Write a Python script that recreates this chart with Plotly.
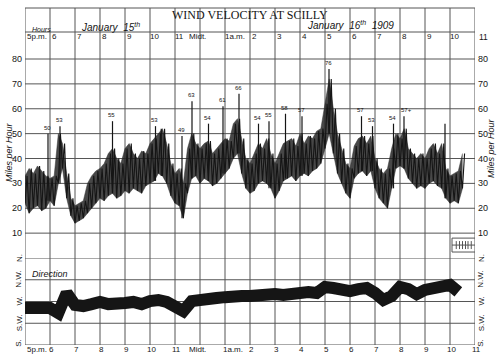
import plotly.graph_objects as go

W, H = 500, 356

# ---------------- data ----------------
hours = list(range(17, 36))
hour_labels = ["5p.m.", "6", "7", "8", "9", "10", "11", "Midt.", "1a.m.",
               "2", "3", "4", "5", "6", "7", "8", "9", "10", "11"]

vel_ticks = [10, 20, 30, 40, 50, 60, 70, 80]
dir_ticks = [0, 1, 2, 3, 4]
dir_labels = ["S.", "S.W.", "W.", "N.W.", "N."]

# velocity envelope, every 10 minutes from 5 p.m. (hour 17)
env_start = 17.0
env_step = 1 / 6
vel_low = [22, 18, 20, 21, 19, 20, 23, 21, 30, 36, 24, 17, 14, 15, 16, 18, 20, 22,
           24, 23, 25, 26, 24, 25, 27, 26, 28, 27, 26, 29, 30, 31, 34, 33, 30, 25,
           22, 21, 16, 26, 32, 33, 30, 32, 31, 29, 30, 32, 34, 36, 40, 42, 34, 28,
           26, 27, 30, 31, 30, 28, 24, 27, 31, 32, 33, 31, 33, 34, 33, 35, 36, 38,
           44, 50, 42, 34, 30, 26, 24, 32, 34, 35, 33, 35, 28, 24, 22, 20, 28, 36,
           37, 36, 32, 30, 28, 29, 28, 30, 31, 29, 28, 24, 22, 23, 22, 28]
vel_high = [33, 36, 34, 37, 35, 33, 32, 33, 50, 46, 34, 24, 21, 22, 23, 30, 33, 35,
            36, 38, 42, 44, 40, 38, 44, 46, 42, 40, 43, 42, 46, 48, 50, 52, 46, 38,
            34, 36, 30, 44, 50, 46, 44, 46, 47, 42, 44, 46, 48, 47, 54, 56, 48, 40,
            38, 42, 46, 44, 48, 42, 38, 42, 46, 47, 48, 45, 50, 46, 49, 48, 51, 52,
            62, 72, 60, 50, 44, 38, 36, 45, 48, 49, 46, 49, 40, 36, 34, 36, 44, 50,
            48, 52, 44, 42, 40, 42, 40, 44, 46, 42, 46, 36, 33, 34, 35, 42]

gust_times = [17.92, 18.40, 20.50, 22.22, 23.28, 23.68, 24.34, 24.92, 25.56, 26.34,
              26.76, 27.42, 28.08, 29.16, 30.46, 30.90, 31.74, 32.16, 22.45, 33.80]
gust_peaks = [50, 53, 55, 53, 49, 63, 54, 61, 66, 54, 55, 58, 57, 76, 57, 53, 54, 57, 52, 54]
gust_labels = ["50", "53", "55", "53", "49", "63", "54", "61", "66", "54",
               "55", "58", "57", "76", "57", "53", "54", "57+", "", ""]

# wind direction (0=S, 1=S.W., 2=W., 3=N.W., 4=N.), every 20 minutes from 5 p.m.
dir_step = 1 / 3
dir_values = [1.70, 1.70, 1.75, 1.70, 1.47, 2.39, 1.84, 1.79, 1.88, 1.98, 1.88, 1.84,
              1.93, 1.98, 1.88, 2.02, 2.07, 1.98, 1.79, 1.56, 2.02, 2.11, 2.07, 2.16,
              2.20, 2.16, 2.25, 2.25, 2.30, 2.25, 2.34, 2.30, 2.39, 2.39, 2.44, 2.39,
              2.67, 2.62, 2.53, 2.48, 2.57, 2.62, 2.39, 2.07, 2.25, 2.67, 2.57, 2.34,
              2.53, 2.62, 2.62, 2.76, 2.44]

# ---------------- geometry helpers ----------------
def py(p):  # pixel y -> paper
    return 1 - p / H

def px(p):
    return p / W

X_L, X_R = 25, 475
Y_TOP, Y_PLOT, Y_N, Y_S = 8, 32, 258, 345
VPX = 2.4875  # pixels per mph
V_MAX = (Y_N - Y_PLOT) / VPX
HOUR_PX = (X_R - X_L) / (hours[-1] - hours[0])

def hour_px(h):
    return X_L + (h - hours[0]) * HOUR_PX

INK = "#151515"
GRID = "#555555"
FONT = "Liberation Sans"

fig = go.Figure()

# velocity band (filled between envelopes)
tt = [env_start + i * env_step for i in range(len(vel_low))]
fig.add_trace(go.Scatter(x=tt, y=vel_low, mode="lines", line=dict(color="#333", width=0.5),
                         hoverinfo="skip", showlegend=False))
fig.add_trace(go.Scatter(x=tt, y=vel_high, mode="lines", line=dict(color="#333", width=0.5),
                         fill="tonexty", fillcolor="rgba(30,30,30,0.82)",
                         hoverinfo="skip", showlegend=False))

# velocity trace (zig-zag between envelope values)
xs, ys = [], []
for i, (lo, hi) in enumerate(zip(vel_low, vel_high)):
    t = env_start + i * env_step
    xs += [t, t + env_step / 2]
    ys += [lo, hi]
fig.add_trace(go.Scatter(x=xs, y=ys, mode="lines", line=dict(color=INK, width=1.1),
                         hoverinfo="skip", showlegend=False))

# gust spikes
gx, gy = [], []
for t, pk in zip(gust_times, gust_peaks):
    idx = min(len(vel_low) - 1, max(0, round((t - env_start) / env_step)))
    gx += [t, t, None]
    gy += [vel_low[idx], pk, None]
fig.add_trace(go.Scatter(x=gx, y=gy, mode="lines", line=dict(color=INK, width=1.2),
                         hoverinfo="skip", showlegend=False))

# direction band
dx = [env_start + i * dir_step for i in range(len(dir_values))]
fig.add_trace(go.Scatter(x=dx, y=dir_values, yaxis="y2", mode="lines",
                         line=dict(color=INK, width=12), hoverinfo="skip", showlegend=False))

shapes = []
line_style = dict(color=GRID, width=1)
for h in hours:
    shapes.append(dict(type="line", xref="x", yref="paper", x0=h, x1=h,
                       y0=py(Y_S), y1=py(Y_TOP), line=line_style, layer="below"))
for p in (Y_TOP, Y_PLOT):
    shapes.append(dict(type="line", xref="x", yref="paper", x0=17, x1=35,
                       y0=py(p), y1=py(p), line=line_style, layer="below"))
for v in vel_ticks:
    shapes.append(dict(type="line", xref="x", yref="y", x0=17, x1=35, y0=v, y1=v,
                       line=line_style, layer="below"))
for d in dir_ticks:
    shapes.append(dict(type="line", xref="x", yref="y2", x0=17, x1=35, y0=d, y1=d,
                       line=line_style, layer="below"))
# small scale box at right
shapes.append(dict(type="rect", xref="x", yref="y", x0=34.08, x1=35.05, y0=2.4, y1=8.0,
                   line=dict(color=GRID, width=1), layer="below"))
shapes.append(dict(type="line", xref="x", yref="y", x0=34.08, x1=35.05, y0=5.2, y1=5.2,
                   line=dict(color=GRID, width=1)))
for tk in [34.25, 34.38, 34.5, 34.62, 34.72, 34.85]:
    shapes.append(dict(type="line", xref="x", yref="y", x0=tk, x1=tk, y0=3.6, y1=6.8,
                       line=dict(color=GRID, width=1)))

ann = []
def text(x, y, s, size=9, xanchor="center", yanchor="middle", angle=0, family=FONT,
         xref="paper", yref="paper", color=INK, xshift=0, yshift=0, bg=None):
    d = dict(x=x, y=y, text=s, showarrow=False, xref=xref, yref=yref,
             xanchor=xanchor, yanchor=yanchor, textangle=angle,
             font=dict(size=size, family=family, color=color),
             xshift=xshift, yshift=yshift)
    if bg:
        d["bgcolor"] = bg
    ann.append(d)

# hour labels top and bottom
HS = 8
for h, lab in zip(hours, hour_labels):
    xp = hour_px(h)
    if lab == "Midt.":
        text(px(xp - 3), py(37), lab, HS, "center")
        text(px(xp - 3), py(349), lab, HS, "center")
    elif lab == "5p.m.":
        text(px(xp), py(37), lab, HS, "left")
        text(px(xp), py(349), lab, HS, "left")
    elif lab == "1a.m.":
        text(px(xp - 2), py(37), lab, HS, "left")
        text(px(xp - 4), py(349), lab, HS, "left")
    elif h == hours[-1]:
        text(px(xp + 8), py(37), lab, 8.5, "center", bg="white")
        text(px(xp + 1), py(349), lab, HS, "center")
    else:
        text(px(xp + 4), py(37), lab, HS, "center")
        text(px(xp + 1), py(349), lab, HS, "center")

# velocity tick labels
for v in vel_ticks:
    text(px(24), v, str(v), 9, "right", yref="y")
    text(px(476), v, str(v), 9, "left", yref="y")

# direction labels
for d, lab in zip(dir_ticks, dir_labels):
    yy = d + (0.1 if d == 0 else 0)
    text(px(19), yy, lab, 8, "center", angle=-90, yref="y2")
    text(px(481), yy, lab, 8, "center", angle=-90, yref="y2")

# gust labels
for t, pk, lab in zip(gust_times, gust_peaks, gust_labels):
    if lab:
        if lab.endswith("+"):
            text(t, pk, lab, 6, "left", "bottom", xref="x", yref="y", xshift=-5, yshift=1)
        else:
            text(t, pk, lab, 6, "center", "bottom", xref="x", yref="y", xshift=-1, yshift=1)

# headers
text(px(250), py(15), "WIND VELOCITY AT SCILLY", 12, family="Liberation Serif")
text(px(41), py(29), "<i>Hours</i>", 7)
text(px(110), py(27), "<i>January  15<sup>th</sup></i>", 10)
text(px(350), py(25), "<i>January  16<sup>th</sup>  1909</i>", 10)
text(px(9), py(152), "<i>Miles per Hour</i>", 9, angle=-90)
text(px(491), py(148), "<i>Miles per Hour</i>", 9, angle=-90)
text(px(30), py(274), "<i>Direction</i>", 9, "left")

fig.update_layout(
    width=W, height=H, margin=dict(l=0, r=0, t=0, b=0),
    paper_bgcolor="white", plot_bgcolor="white",
    xaxis=dict(range=[17, 35], domain=[px(X_L), px(X_R)], visible=False),
    yaxis=dict(range=[0, V_MAX], domain=[py(Y_N), py(Y_PLOT)], visible=False),
    yaxis2=dict(range=[0, 4], domain=[py(Y_S), py(Y_N)], visible=False, anchor="x"),
    shapes=shapes, annotations=ann, showlegend=False,
)

fig.write_html("out.html", config={"displayModeBar": False})
